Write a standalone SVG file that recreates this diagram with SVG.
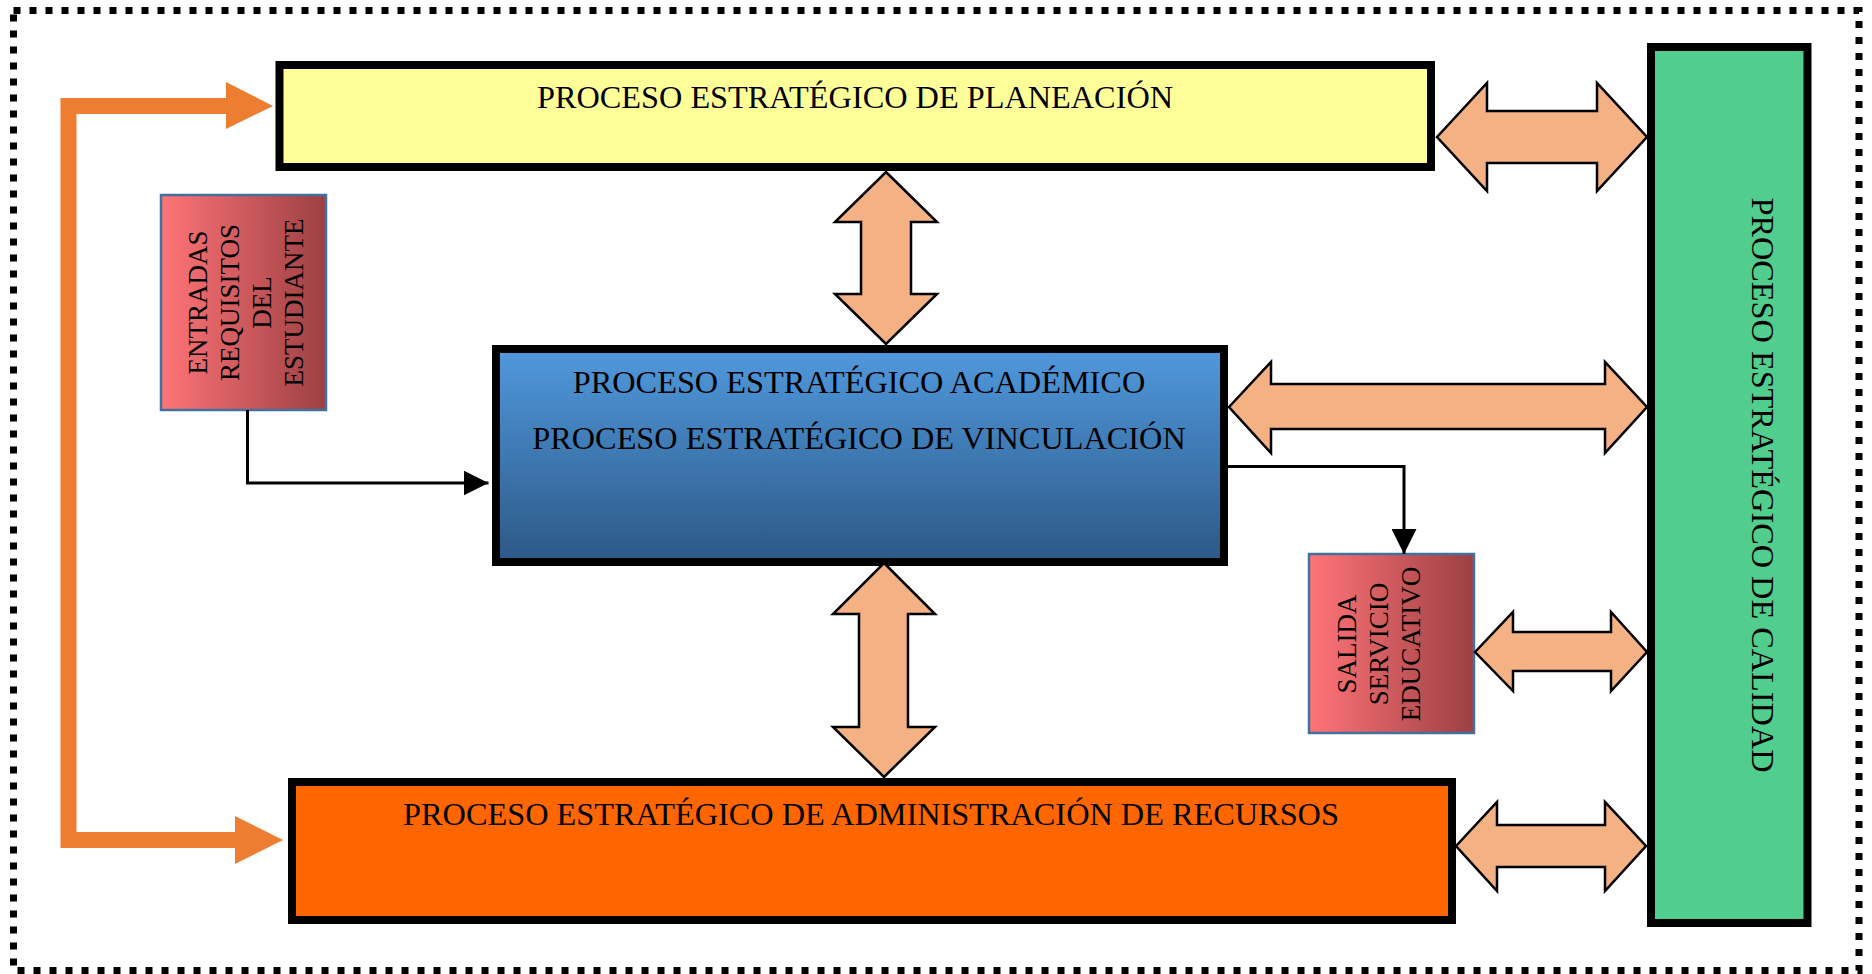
<svg xmlns="http://www.w3.org/2000/svg" width="1872" height="974" viewBox="0 0 1872 974">
<defs>
<linearGradient id="gBlue" x1="0" y1="0" x2="0" y2="1">
<stop offset="0" stop-color="#5099DD"/>
<stop offset="1" stop-color="#2C5886"/>
</linearGradient>
<linearGradient id="gPink" x1="0" y1="0" x2="1" y2="0">
<stop offset="0" stop-color="#FF7478"/>
<stop offset="1" stop-color="#9C4043"/>
</linearGradient>
<marker id="ah" viewBox="0 0 25 25" refX="25" refY="12.5" markerWidth="25" markerHeight="25" markerUnits="userSpaceOnUse" orient="auto">
<path d="M0,0 L25,12.5 L0,25 Z" fill="#000"/>
</marker>
<style>
.box{stroke:#000;stroke-width:8}
.sm{stroke:#41719C;stroke-width:2.5;fill:url(#gPink)}
.t{font-family:"Liberation Serif","Times New Roman",serif;font-size:32.3px;fill:#000;text-anchor:middle}
.ts{font-family:"Liberation Serif","Times New Roman",serif;font-size:27px;fill:#000;text-anchor:middle}
.dbl{fill:#F4B183;stroke:#000;stroke-width:2.5;stroke-linejoin:miter}
.con{fill:none;stroke:#000;stroke-width:3}
</style>
</defs>
<rect x="13.5" y="10.5" width="1845.5" height="960" fill="none" stroke="#000" stroke-width="7" stroke-dasharray="7 9"/>
<g id="planeacion">
<rect class="box" x="279.5" y="65" width="1151.5" height="102" fill="#FFFF99"/>
<text class="t" x="855" y="107.5">PROCESO ESTRATÉGICO DE PLANEACIÓN</text>
</g>
<g id="academico">
<rect class="box" x="496" y="349" width="728" height="213" fill="url(#gBlue)"/>
<text class="t" x="859" y="393">PROCESO ESTRATÉGICO ACADÉMICO</text>
<text class="t" x="859" y="448.5">PROCESO ESTRATÉGICO DE VINCULACIÓN</text>
</g>
<g id="recursos">
<rect class="box" x="292" y="782" width="1160" height="138" fill="#FF6600"/>
<text class="t" x="871" y="825">PROCESO ESTRATÉGICO DE ADMINISTRACIÓN DE RECURSOS</text>
</g>
<g id="calidad">
<rect class="box" x="1651" y="47" width="156.5" height="876" fill="#51CD8D"/>
<text class="t" transform="translate(1752,485) rotate(90)" x="0" y="0">PROCESO ESTRATÉGICO DE CALIDAD</text>
</g>
<g id="entradas">
<rect class="sm" x="161" y="195" width="165" height="215"/>
<text class="ts" transform="translate(0,302.5) rotate(-90)"><tspan x="0" y="206.5">ENTRADAS</tspan><tspan x="0" y="238.5">REQUISITOS</tspan><tspan x="0" y="270.5">DEL</tspan><tspan x="0" y="302.5">ESTUDIANTE</tspan></text>
</g>
<g id="salida">
<rect class="sm" x="1309" y="554" width="165" height="179"/>
<text class="ts" transform="translate(0,644) rotate(-90)"><tspan x="0" y="1356">SALIDA</tspan><tspan x="0" y="1388">SERVICIO</tspan><tspan x="0" y="1420">EDUCATIVO</tspan></text>
</g>
<g id="connectors">
<path d="M60.5,98 L226,98 L226,82 L273,106 L226,129 L226,114 L76.5,114 L76.5,832 L235,832 L235,816 L283,840 L235,864 L235,848 L60.5,848 Z" fill="#ED7D31"/>
<path class="dbl" d="M1437,137 L1487,83 L1487,111 L1597,111 L1597,83 L1647,137 L1597,191 L1597,163 L1487,163 L1487,191 Z"/>
<path class="dbl" d="M1229,407 L1271,362 L1271,384 L1605,384 L1605,362 L1647,407 L1605,453 L1605,429 L1271,429 L1271,453 Z"/>
<path class="dbl" d="M1475,652 L1513,612 L1513,632 L1611,632 L1611,612 L1647,652 L1611,691 L1611,671 L1513,671 L1513,691 Z"/>
<path class="dbl" d="M1456,846 L1497,802 L1497,825 L1605,825 L1605,802 L1646,846 L1605,891 L1605,867 L1497,867 L1497,891 Z"/>
<path class="dbl" d="M886,172 L937,222 L911,222 L911,294 L937,294 L886,344 L835,294 L861,294 L861,222 L835,222 Z"/>
<path class="dbl" d="M884,563 L935,614 L908,614 L908,727 L935,727 L884,777 L833,727 L859,727 L859,614 L833,614 Z"/>
<path class="con" d="M247.5,410 L247.5,483 L488.5,483" marker-end="url(#ah)"/>
<path class="con" d="M1228,466.5 L1404,466.5 L1404,554" marker-end="url(#ah)"/>
</g>
</svg>
